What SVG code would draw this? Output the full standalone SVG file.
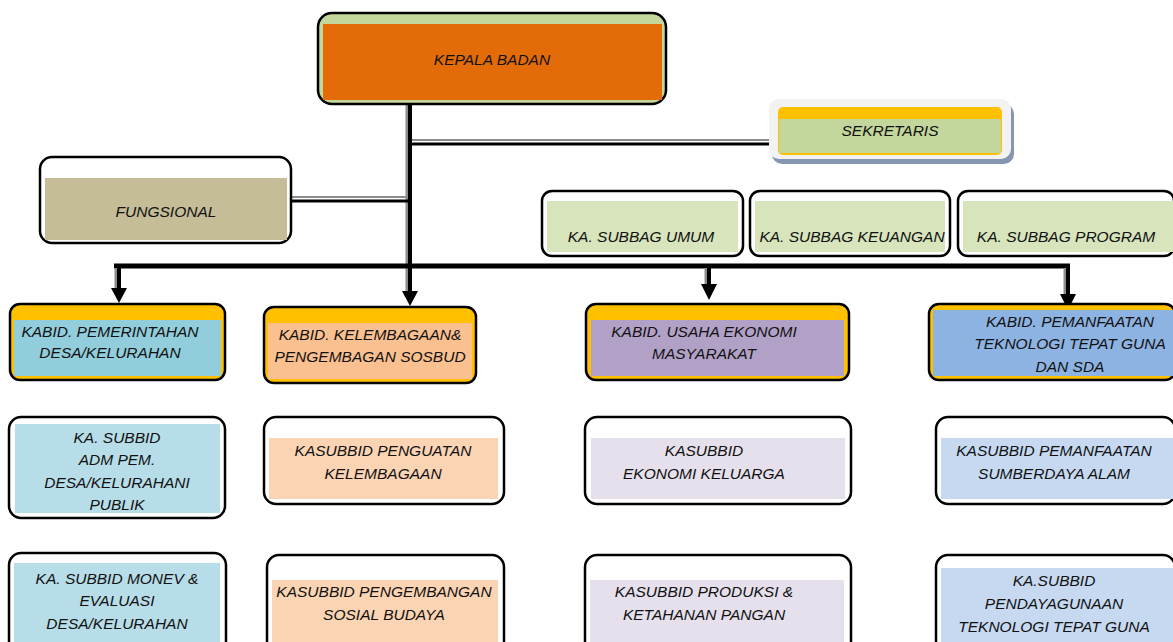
<svg xmlns="http://www.w3.org/2000/svg" width="1173" height="642" viewBox="0 0 1173 642">
<style>
.o{stroke:#000;stroke-width:2.5;}
.t{font-family:"Liberation Sans",Arial,sans-serif;font-style:italic;font-size:15.5px;fill:#111;text-anchor:middle;}
.sh{stroke:#8c8c8c;fill:none;}
.ln{stroke:#000;fill:none;}
</style>
<rect width="1173" height="642" fill="#fff"/>
<g id="connectors">
<line class="sh" x1="407" y1="102" x2="407" y2="293" stroke-width="3"/>
<line class="ln" x1="410" y1="102" x2="410" y2="293" stroke-width="4"/>
<path d="M402,291 L418,291 L410,306 Z" fill="#000"/>
<line class="sh" x1="412" y1="140" x2="772" y2="140" stroke-width="2"/>
<line class="ln" x1="412" y1="144" x2="772" y2="144" stroke-width="3"/>
<line class="sh" x1="290" y1="197" x2="406" y2="197" stroke-width="2"/>
<line class="ln" x1="290" y1="201" x2="408" y2="201" stroke-width="3"/>
<line class="ln" x1="114" y1="266" x2="1070" y2="266" stroke-width="5"/>
<line class="sh" x1="116" y1="268" x2="116" y2="290" stroke-width="3"/>
<line class="ln" x1="119" y1="266" x2="119" y2="290" stroke-width="4"/>
<path d="M111,288 L127,288 L119,303 Z" fill="#000"/>
<line class="sh" x1="706" y1="268" x2="706" y2="286" stroke-width="3"/>
<line class="ln" x1="709" y1="266" x2="709" y2="286" stroke-width="4"/>
<path d="M701,284 L717,284 L709,300 Z" fill="#000"/>
<line class="sh" x1="1065" y1="268" x2="1065" y2="296" stroke-width="3"/>
<line class="ln" x1="1068" y1="266" x2="1068" y2="296" stroke-width="4"/>
<path d="M1060,294 L1076,294 L1068,310 Z" fill="#000"/>
</g>
<g id="kepala">
<rect class="o" x="318" y="13" width="348" height="91" rx="14" fill="#C3D69B"/>
<rect x="323" y="24" width="339" height="76" fill="#E36C09"/>
<text class="t" x="492" y="65">KEPALA BADAN</text>
</g>
<g id="sekretaris">
<rect x="772" y="104" width="242" height="60" rx="10" fill="#8496B0"/>
<rect x="769" y="99" width="242" height="60" rx="10" fill="#f2f2f2"/>
<rect x="778" y="107" width="224" height="48" rx="5" fill="#FFC000"/>
<rect x="779" y="119" width="222" height="34" fill="#C3D69B"/>
<text class="t" x="890" y="136">SEKRETARIS</text>
</g>
<g id="fungsional">
<rect class="o" x="40" y="157" width="251" height="86" rx="12" fill="#fff"/>
<rect x="45" y="178" width="242" height="62" fill="#C4BD97"/>
<text class="t" x="166" y="217">FUNGSIONAL</text>
</g>
<g id="subbag-umum">
<rect class="o" x="542" y="191" width="201" height="65" rx="10" fill="#fff"/>
<rect x="547" y="201" width="191" height="51" fill="#D7E4BC"/>
<text class="t" x="641" y="242">KA.  SUBBAG UMUM</text>
</g>
<g id="subbag-keuangan">
<rect class="o" x="750" y="191" width="200" height="65" rx="10" fill="#fff"/>
<rect x="755" y="201" width="190" height="51" fill="#D7E4BC"/>
<text class="t" x="852" y="242">KA. SUBBAG KEUANGAN</text>
</g>
<g id="subbag-program">
<rect class="o" x="958" y="191" width="216" height="65" rx="10" fill="#fff"/>
<rect x="963" y="201" width="210" height="51" fill="#D7E4BC"/>
<text class="t" x="1066" y="242">KA. SUBBAG PROGRAM</text>
</g>
<g id="kabid-pem">
<rect class="o" x="10" y="304" width="215" height="76" rx="10" fill="#FFC000"/>
<rect x="14" y="320" width="207" height="56" fill="#92CDDC"/>
<text class="t" x="110" y="337">KABID. PEMERINTAHAN</text>
<text class="t" x="110" y="358">DESA/KELURAHAN</text>
</g>
<g id="kabid-kelembagaan">
<rect class="o" x="264" y="307" width="212" height="76" rx="10" fill="#FFC000"/>
<rect x="268" y="323" width="204" height="56" fill="#FAC090"/>
<text class="t" x="370" y="340">KABID. KELEMBAGAAN&amp;</text>
<text class="t" x="370" y="362">PENGEMBAGAN SOSBUD</text>
</g>
<g id="kabid-usaha">
<rect class="o" x="586" y="304" width="263" height="76" rx="10" fill="#FFC000"/>
<rect x="591" y="320" width="253" height="56" fill="#B2A1C7"/>
<text class="t" x="704" y="337">KABID. USAHA EKONOMI</text>
<text class="t" x="704" y="359">MASYARAKAT</text>
</g>
<g id="kabid-pemanfaatan">
<rect class="o" x="929" y="304" width="246" height="76" rx="10" fill="#FFC000"/>
<rect x="933" y="310" width="240" height="66" fill="#8DB3E2"/>
<text class="t" x="1070" y="327">KABID. PEMANFAATAN</text>
<text class="t" x="1070" y="349">TEKNOLOGI TEPAT GUNA</text>
<text class="t" x="1070" y="372">DAN SDA</text>
</g>
<g id="subbid-adm">
<rect class="o" x="9" y="417" width="216" height="101" rx="12" fill="#fff"/>
<rect x="15" y="424" width="205" height="89" fill="#B7DDE8"/>
<text class="t" x="117" y="443">KA. SUBBID</text>
<text class="t" x="117" y="465">ADM PEM.</text>
<text class="t" x="117" y="488">DESA/KELURAHANI</text>
<text class="t" x="117" y="510">PUBLIK</text>
</g>
<g id="subbid-penguatan">
<rect class="o" x="264" y="417" width="240" height="87" rx="12" fill="#fff"/>
<rect x="269" y="438" width="229" height="61" fill="#FBD4B4"/>
<text class="t" x="383" y="456">KASUBBID PENGUATAN</text>
<text class="t" x="383" y="479">KELEMBAGAAN</text>
</g>
<g id="subbid-ekonomi">
<rect class="o" x="585" y="417" width="266" height="87" rx="12" fill="#fff"/>
<rect x="591" y="438" width="254" height="61" fill="#E5E0EC"/>
<text class="t" x="704" y="456">KASUBBID</text>
<text class="t" x="704" y="479">EKONOMI KELUARGA</text>
</g>
<g id="subbid-sda">
<rect class="o" x="936" y="417" width="239" height="87" rx="12" fill="#fff"/>
<rect x="941" y="438" width="232" height="61" fill="#C6D9F1"/>
<text class="t" x="1054" y="456">KASUBBID PEMANFAATAN</text>
<text class="t" x="1054" y="479">SUMBERDAYA ALAM</text>
</g>
<g id="subbid-monev">
<rect class="o" x="9" y="553" width="217" height="100" rx="12" fill="#fff"/>
<rect x="14" y="563" width="206" height="80" fill="#B7DDE8"/>
<text class="t" x="117" y="584">KA. SUBBID MONEV &amp;</text>
<text class="t" x="117" y="606">EVALUASI</text>
<text class="t" x="117" y="629">DESA/KELURAHAN</text>
</g>
<g id="subbid-sosbud">
<rect class="o" x="267" y="555" width="237" height="100" rx="12" fill="#fff"/>
<rect x="272" y="580" width="226" height="63" fill="#FBD4B4"/>
<text class="t" x="384" y="597">KASUBBID PENGEMBANGAN</text>
<text class="t" x="384" y="620">SOSIAL BUDAYA</text>
</g>
<g id="subbid-pangan">
<rect class="o" x="585" y="555" width="266" height="100" rx="12" fill="#fff"/>
<rect x="590" y="580" width="254" height="63" fill="#E5E0EC"/>
<text class="t" x="704" y="597">KASUBBID PRODUKSI &amp;</text>
<text class="t" x="704" y="620">KETAHANAN PANGAN</text>
</g>
<g id="subbid-ttg">
<rect class="o" x="936" y="555" width="239" height="100" rx="12" fill="#fff"/>
<rect x="941" y="568" width="232" height="75" fill="#C6D9F1"/>
<text class="t" x="1054" y="586">KA.SUBBID</text>
<text class="t" x="1054" y="609">PENDAYAGUNAAN</text>
<text class="t" x="1054" y="632">TEKNOLOGI TEPAT GUNA</text>
</g>
</svg>
